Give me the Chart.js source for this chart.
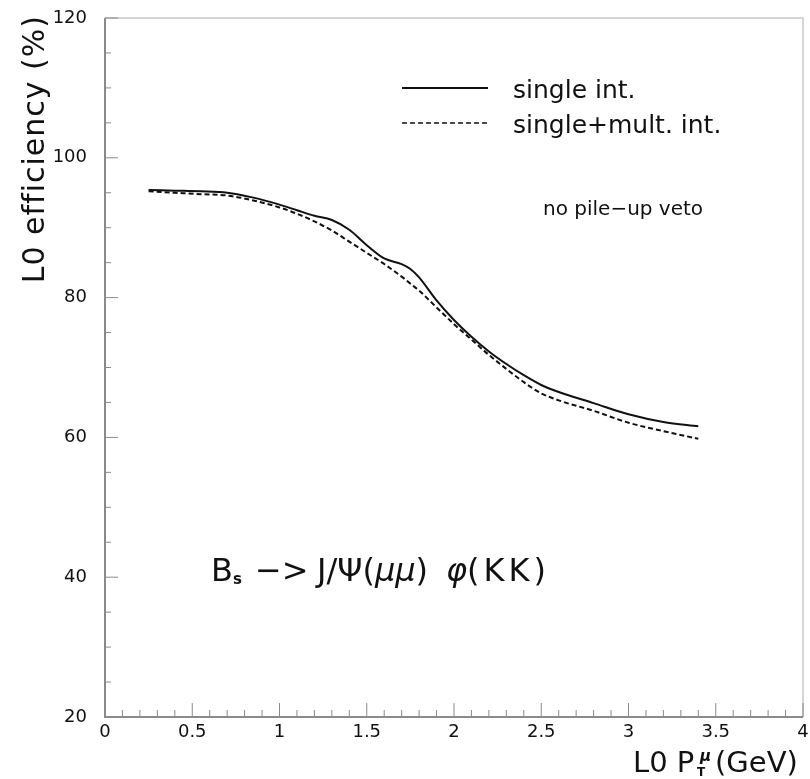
<!DOCTYPE html>
<html>
<head>
<meta charset="utf-8">
<script src="https://cdn.jsdelivr.net/npm/chart.js@4/dist/chart.umd.min.js"></script>
<style>
  body { margin: 0; background: #fff; }
  canvas { display: block; }
</style>
</head>
<body>
<canvas id="effChart" width="810" height="779"></canvas>
<script>
// pT cut values (GeV)
const ptCut = [0.25, 0.4, 0.55, 0.7, 0.85, 1.0, 1.1, 1.2, 1.3, 1.4, 1.5, 1.6, 1.7, 1.75,
               1.8, 1.9, 2.0, 2.1, 2.2, 2.3, 2.4, 2.5, 2.6, 2.8, 3.0, 3.2, 3.4];
// L0 efficiency (%) - single interaction
const singleInt = [95.4, 95.3, 95.2, 95.0, 94.3, 93.3, 92.5, 91.7, 91.1, 89.7, 87.5, 85.6, 84.8, 84.1,
                   82.9, 79.6, 76.8, 74.4, 72.3, 70.5, 68.9, 67.5, 66.5, 64.9, 63.3, 62.2, 61.6];
// L0 efficiency (%) - single + multiple interactions
const multInt = [95.2, 95.0, 94.8, 94.6, 93.9, 92.9, 92.0, 90.9, 89.6, 88.0, 86.4, 84.8, 83.0, 82.0,
                 81.0, 78.6, 76.2, 74.0, 71.8, 69.8, 67.9, 66.3, 65.3, 63.8, 62.1, 60.9, 59.8];
const xTicks = [0, 0.5, 1, 1.5, 2, 2.5, 3, 3.5, 4];
const yTicks = [20, 40, 60, 80, 100, 120];

const FONT = '"DejaVu Sans", sans-serif';

function toPoints(xs, ys) {
    return xs.map((x, i) => ({ x: x, y: ys[i] }));
}

// frame, inner ticks and all the annotation text
const decorations = {
    id: 'decorations',
    afterDraw(chart) {
        const ctx = chart.ctx;
        const a = chart.chartArea;
        const xs = chart.scales.x;
        const ys = chart.scales.y;
        ctx.save();

        // light top / right frame
        ctx.strokeStyle = '#c8c8c8';
        ctx.lineWidth = 1.5;
        ctx.beginPath();
        ctx.moveTo(a.left, a.top);
        ctx.lineTo(a.right, a.top);
        ctx.lineTo(a.right, a.bottom);
        ctx.stroke();

        // left / bottom axes
        ctx.strokeStyle = '#8a8a8a';
        ctx.lineWidth = 2;
        ctx.beginPath();
        ctx.moveTo(a.left, a.top);
        ctx.lineTo(a.left, a.bottom);
        ctx.lineTo(a.right, a.bottom);
        ctx.stroke();

        // ticks inside the frame
        ctx.lineWidth = 1;
        ctx.beginPath();
        for (let i = 0; i <= 40; i++) {
            const px = xs.getPixelForValue(i / 10);
            const len = i % 5 === 0 ? 14 : 7;
            ctx.moveTo(px, a.bottom);
            ctx.lineTo(px, a.bottom - len);
        }
        for (let v = 20; v <= 120; v += 5) {
            const py = ys.getPixelForValue(v);
            const len = v % 20 === 0 ? 13 : 6;
            ctx.moveTo(a.left, py);
            ctx.lineTo(a.left + len, py);
        }
        ctx.stroke();

        ctx.fillStyle = '#111';
        ctx.textBaseline = 'alphabetic';
        ctx.textAlign = 'left';

        // y axis title
        ctx.save();
        ctx.translate(44, 15);
        ctx.rotate(-Math.PI / 2);
        ctx.textAlign = 'right';
        ctx.font = '30px ' + FONT;
        ctx.letterSpacing = '1px';
        ctx.fillText('L0 efficiency (%)', 0, 0);
        ctx.restore();

        // x axis title: L0 P_T^mu (GeV)
        ctx.font = '29px ' + FONT;
        ctx.fillText('L0 P', 633, 772);
        ctx.font = 'bold 12px ' + FONT;
        ctx.fillText('T', 697, 776);
        ctx.font = 'italic bold 15px ' + FONT;
        ctx.fillText('\u03bc', 700, 761);
        ctx.font = '29px ' + FONT;
        ctx.fillText('(GeV)', 715, 772);

        // legend
        ctx.strokeStyle = '#111';
        ctx.lineWidth = 2;
        ctx.beginPath();
        ctx.moveTo(402, 88);
        ctx.lineTo(488, 88);
        ctx.stroke();
        ctx.setLineDash([5, 3]);
        ctx.lineWidth = 1.6;
        ctx.beginPath();
        ctx.moveTo(402, 123);
        ctx.lineTo(488, 123);
        ctx.stroke();
        ctx.setLineDash([]);
        ctx.font = '25px ' + FONT;
        ctx.fillText('single int.', 513, 98);
        ctx.fillText('single+mult. int.', 513, 133);

        ctx.font = '20px ' + FONT;
        ctx.fillText('no pile\u2212up veto', 543, 215);

        // decay label: B_s -> J/Psi(mu mu) phi(KK)
        const by = 581;
        ctx.font = '32px ' + FONT;
        ctx.fillText('B', 211, by);
        ctx.font = 'bold 15px ' + FONT;
        ctx.fillText('s', 233, by + 3);
        ctx.font = '32px ' + FONT;
        ctx.fillText('\u2212>', 255, by);
        let dx = 317;
        ctx.fillText('J/\u03a8(', dx, by);
        dx += ctx.measureText('J/\u03a8(').width;
        ctx.font = 'italic 32px ' + FONT;
        ctx.fillText('\u03bc\u03bc', dx, by);
        dx += ctx.measureText('\u03bc\u03bc').width;
        ctx.font = '32px ' + FONT;
        ctx.fillText(')', dx, by);
        ctx.font = 'italic 32px ' + FONT;
        ctx.fillText('\u03c6', 446, by);
        dx = 446 + ctx.measureText('\u03c6').width;
        ctx.font = '32px ' + FONT;
        ctx.letterSpacing = '4px';
        ctx.fillText('(KK)', dx, by);
        ctx.letterSpacing = '0px';

        ctx.restore();
    }
};

const ctx = document.getElementById('effChart').getContext('2d');
const effChart = new Chart(ctx, {
    type: 'scatter',
    data: {
        datasets: [{
            label: 'single int.',
            data: toPoints(ptCut, singleInt),
            showLine: true,
            borderColor: '#111',
            borderWidth: 2,
            pointRadius: 0,
            cubicInterpolationMode: 'monotone',
            fill: false
        }, {
            label: 'single+mult. int.',
            data: toPoints(ptCut, multInt),
            showLine: true,
            borderColor: '#111',
            borderWidth: 2,
            borderDash: [5, 3],
            pointRadius: 0,
            cubicInterpolationMode: 'monotone',
            fill: false
        }]
    },
    options: {
        responsive: false,
        animation: false,
        events: [],
        layout: { padding: { left: 0, top: 18, right: 7, bottom: 0 } },
        plugins: { legend: { display: false }, tooltip: { enabled: false } },
        scales: {
            x: {
                type: 'linear',
                min: 0,
                max: 4,
                afterBuildTicks: scale => { scale.ticks = xTicks.map(v => ({ value: v })); },
                afterFit: scale => {
                    scale.height = 62;
                    scale.paddingLeft = 0;
                    scale.paddingRight = 0;
                },
                grid: { display: false, drawTicks: false },
                border: { display: false },
                ticks: {
                    color: '#111',
                    padding: 5,
                    maxRotation: 0,
                    font: { family: FONT, size: 18 },
                    callback: v => String(v)
                }
            },
            y: {
                type: 'linear',
                min: 20,
                max: 120,
                afterBuildTicks: scale => { scale.ticks = yTicks.map(v => ({ value: v })); },
                afterFit: scale => {
                    scale.width = 105;
                    scale.paddingTop = 0;
                    scale.paddingBottom = 0;
                },
                grid: { display: false, drawTicks: false },
                border: { display: false },
                ticks: {
                    color: '#111',
                    padding: 18,
                    font: { family: FONT, size: 18 },
                    callback: v => String(v)
                }
            }
        }
    },
    plugins: [decorations]
});
</script>
</body>
</html>
